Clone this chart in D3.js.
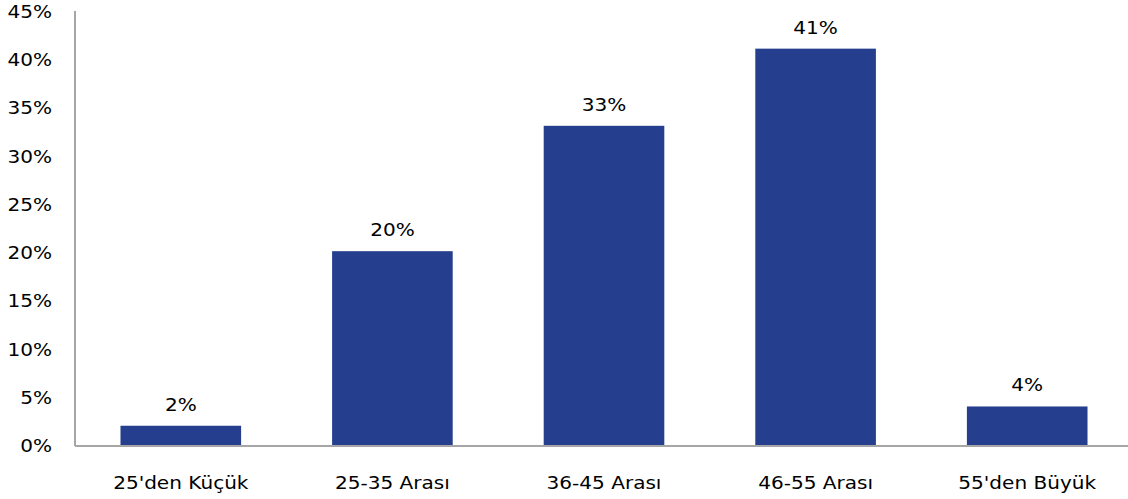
<!DOCTYPE html>
<html>
<head>
<meta charset="utf-8">
<script src="https://cdn.jsdelivr.net/npm/d3@7"></script>
<style>
  body { margin: 0; background: #fff; }
  text { font-family: "DejaVu Sans", Verdana, sans-serif; fill: #000; font-size: 17px; }
</style>
</head>
<body>
<svg width="1128" height="499"></svg>
<script>
var categories = ["25'den Küçük", "25-35 Arası", "36-45 Arası", "46-55 Arası", "55'den Büyük"];
var values = [2.1, 20.2, 33.2, 41.2, 4.1];
var labels = ["2%", "20%", "33%", "41%", "4%"];
var yTicks = [0, 5, 10, 15, 20, 25, 30, 35, 40, 45];

var svg = d3.select("svg"),
    margin = {left: 75, right: -5, top: 12, bottom: 53},
    width = +svg.attr("width") - margin.left - margin.right,
    height = +svg.attr("height") - margin.top - margin.bottom,
    stretch = 1.18;   // the reference text is drawn wider than normal

var g = svg.append("g").attr("transform", "translate(" + margin.left + "," + margin.top + ")");

var x = d3.scaleBand()
    .domain(categories)
    .range([0, width])
    .paddingInner(0.43)
    .paddingOuter(0.215);

var y = d3.scaleLinear()
    .domain([0, 45])
    .range([height, 0]);

function place(px, py) {
    return "translate(" + px + "," + py + ") scale(" + stretch + ",1)";
}

// y labels
g.selectAll(".ylab")
    .data(yTicks)
    .enter().append("text")
    .attr("class", "ylab")
    .attr("transform", function (d) { return place(-23, y(d)); })
    .attr("dy", "0.35em")
    .attr("text-anchor", "end")
    .text(function (d) { return d + "%"; });

g.selectAll(".bar")
    .data(values)
    .enter().append("rect")
    .attr("class", "bar")
    .attr("x", function (d, i) { return x(categories[i]); })
    .attr("y", function (d) { return y(d); })
    .attr("width", x.bandwidth())
    .attr("height", function (d) { return height - y(d); })
    .style("fill", "#253f8e");

g.selectAll(".vlab")
    .data(values)
    .enter().append("text")
    .attr("class", "vlab")
    .attr("transform", function (d, i) { return place(x(categories[i]) + x.bandwidth() / 2, y(d) - 15); })
    .attr("text-anchor", "middle")
    .text(function (d, i) { return labels[i]; });

g.selectAll(".xlab")
    .data(categories)
    .enter().append("text")
    .attr("class", "xlab")
    .attr("transform", function (d) { return place(x(d) + x.bandwidth() / 2, height + 43); })
    .attr("text-anchor", "middle")
    .text(function (d) { return d; });

// axis lines
g.append("line")
    .attr("x1", 0).attr("x2", 0)
    .attr("y1", -1).attr("y2", height)
    .style("stroke", "#a6a6a6").style("stroke-width", 2);
g.append("line")
    .attr("x1", 0).attr("x2", width)
    .attr("y1", height).attr("y2", height)
    .style("stroke", "#a6a6a6").style("stroke-width", 2);
</script>
</body>
</html>
